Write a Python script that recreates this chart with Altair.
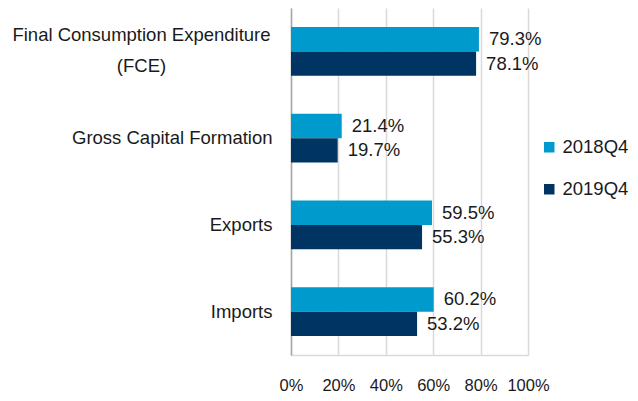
import altair as alt
import pandas as pd

categories = ["Final Consumption Expenditure (FCE)", "Gross Capital Formation", "Exports", "Imports"]
fce_lines = ["Final Consumption Expenditure", "(FCE)"]
series = ["2018Q4", "2019Q4"]
values_2018 = [79.3, 21.4, 59.5, 60.2]
values_2019 = [78.1, 19.7, 55.3, 53.2]
x_ticks = [0, 20, 40, 60, 80, 100]
colors = ["#009ACD", "#003463"]

rows = []
for c, a, b in zip(categories, values_2018, values_2019):
    rows.append({"category": c, "series": series[0], "value": a})
    rows.append({"category": c, "series": series[1], "value": b})
df = pd.DataFrame(rows)

FONT = "Liberation Sans"
TXT = "#1a1a1a"
label_expr = f"datum.value == '{categories[0]}' ? '' : datum.value"

y_enc = alt.Y(
    "category:N",
    sort=categories,
    scale=alt.Scale(paddingInner=0.44, paddingOuter=0.22),
    axis=alt.Axis(
        title=None, ticks=False, labelPadding=19, labelFontSize=18.5,
        labelColor=TXT, labelFont=FONT, labelExpr=label_expr,
        domainColor="#a6a6a6", domainWidth=1.5, labelLimit=400,
    ),
)
x_enc = alt.X(
    "value:Q",
    scale=alt.Scale(domain=[0, 100], nice=False),
    axis=alt.Axis(
        title=None, values=x_ticks, ticks=False, labelPadding=22,
        labelFontSize=16.5, labelColor=TXT, labelFont=FONT, labelOverlap=False,
        labelFlush=False,
        labelExpr="datum.value + '%'", grid=True, gridColor="#d9d9d9",
        gridWidth=1.5, domainColor="#d9d9d9", domainWidth=1.5,
    ),
)
yoff = alt.YOffset("series:N", sort=series)

bars = alt.Chart(df).mark_bar().encode(
    x=x_enc,
    y=y_enc,
    yOffset=yoff,
    color=alt.Color(
        "series:N",
        sort=series,
        scale=alt.Scale(domain=series, range=colors),
        legend=alt.Legend(
            title=None, orient="none", legendX=249, legendY=130,
            symbolType="square", symbolSize=110, labelFontSize=18.5,
            labelFont=FONT, labelColor=TXT, rowPadding=23,
            padding=0, labelOffset=4, symbolStrokeWidth=0,
        ),
    ),
)

text = alt.Chart(df).transform_calculate(
    label="format(datum.value, '.1f') + '%'"
).mark_text(
    align="left", baseline="middle", dx=10, fontSize=18.5, font=FONT, color=TXT
).encode(
    x="value:Q",
    y=alt.Y("category:N", sort=categories),
    yOffset=yoff,
    text="label:N",
)

fce_df = pd.DataFrame({"category": [categories[0]], "lines": [fce_lines]})
fce_label = alt.Chart(fce_df).mark_text(
    align="center", baseline="middle", fontSize=18.5, font=FONT, color=TXT,
    lineHeight=31, dy=-16,
).encode(
    x=alt.value(-149.5),
    y=alt.Y("category:N", sort=categories),
    text="lines",
)

chart = (bars + text + fce_label).properties(
    width=237,
    height=347,
    autosize=alt.AutoSizeParams(type="none"),
    padding={"left": 283, "top": 0, "right": 102, "bottom": 42},
).configure_view(stroke=None)

chart.save("out.html", embed_options={"renderer": "svg", "actions": False})
